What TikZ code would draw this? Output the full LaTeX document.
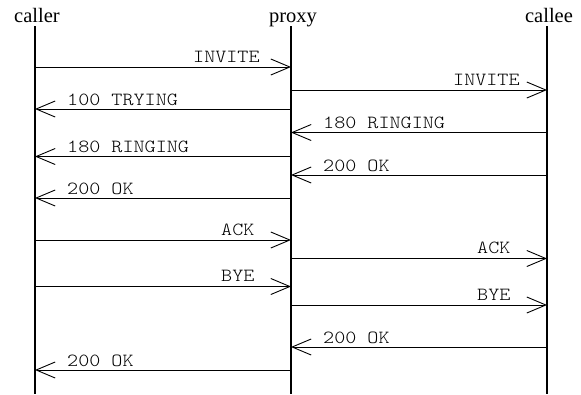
\documentclass[tikz,border=0pt]{standalone}
\usepackage{fontspec}
\setmainfont{Liberation Serif}
\setmonofont[FakeStretch=1.14]{Latin Modern Mono Light}
\usetikzlibrary{arrows.meta}
\begin{document}
\begin{tikzpicture}[x=1pt,y=-1pt,
  life/.style={line width=1.2pt},
  msg/.style={line width=0.9pt,-{Straight Barb[length=19pt,width=16pt,line width=0.9pt]}},
  lbl/.style={font=\fontsize{18.5}{18.5}\selectfont\ttfamily, inner sep=0pt, anchor=base west},
  ttl/.style={font=\fontsize{20.5}{20.5}\selectfont, inner sep=0pt, anchor=base}]
\useasboundingbox (0,0) rectangle (581,394);
% titles
\node[ttl] (caller) at (37,22) {caller};
\node[ttl] (proxy) at (293,22) {proxy};
\node[ttl] (callee) at (549,22) {callee};
% lifelines
\coordinate (cT) at (35,26);  \coordinate (cB) at (35,394);
\coordinate (pT) at (291,26); \coordinate (pB) at (291,394);
\coordinate (eT) at (547,26); \coordinate (eB) at (547,394);
\draw[life] (cT) -- (cB);
\draw[life] (pT) -- (pB);
\draw[life] (eT) -- (eB);
% message end points
\foreach \n/\y in {1/67,2/90,3/109,4/132.5,5/156.5,6/175,7/198,8/240,9/258.5,10/286.5,11/305,12/347,13/370}{
  \coordinate (c\n) at (35,\y);
  \coordinate (p\n) at (291,\y);
  \coordinate (e\n) at (547,\y);
}
% messages
\draw[msg] (c1) -- (p1);
\node[lbl] (l1) at (193,62) {INVITE};
\draw[msg] (p2) -- (e2);
\node[lbl] (l2) at (453,85) {INVITE};
\draw[msg] (p3) -- (c3);
\node[lbl] (l3) at (67,105) {100 TRYING};
\draw[msg] (e4) -- (p4);
\node[lbl] (l4) at (323,128.5) {180 RINGING};
\draw[msg] (p5) -- (c5);
\node[lbl] (l5) at (67,152.5) {180 RINGING};
\draw[msg] (e6) -- (p6);
\node[lbl] (l6) at (323,171) {200 OK};
\draw[msg] (p7) -- (c7);
\node[lbl] (l7) at (67,194) {200 OK};
\draw[msg] (c8) -- (p8);
\node[lbl] (l8) at (221,235) {ACK};
\draw[msg] (p9) -- (e9);
\node[lbl] (l9) at (477,253.5) {ACK};
\draw[msg] (c10) -- (p10);
\node[lbl] (l10) at (221,281.5) {BYE};
\draw[msg] (p11) -- (e11);
\node[lbl] (l11) at (477,300) {BYE};
\draw[msg] (e12) -- (p12);
\node[lbl] (l12) at (323,343) {200 OK};
\draw[msg] (p13) -- (c13);
\node[lbl] (l13) at (67,366) {200 OK};
\end{tikzpicture}
\end{document}
